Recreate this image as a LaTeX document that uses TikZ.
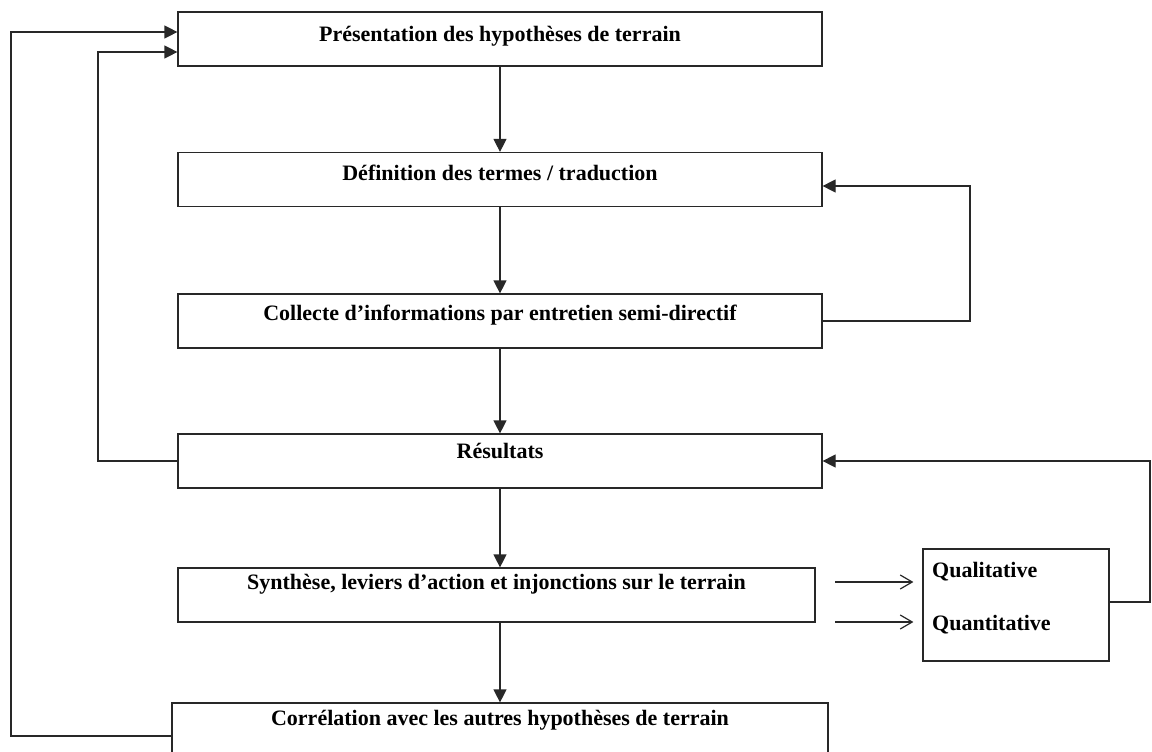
\documentclass[tikz,border=0pt]{standalone}
\usepackage{fontspec}
\setmainfont{Liberation Serif}
\usetikzlibrary{arrows.meta}
\definecolor{ink}{RGB}{40,40,40}
\begin{document}
\begin{tikzpicture}[x=1pt,y=-1pt,
  every node/.style={font=\fontsize{22}{26}\selectfont\bfseries, text=black},
  bx/.style={draw=ink, line width=1.2pt, minimum width=644pt, minimum height=54pt, inner sep=0pt, text height=12pt, text depth=#1},
  bx/.default=12pt,
  ln/.style={draw=ink, line width=1.2pt},
  arr/.style={ln, -{Triangle[length=13pt,width=13pt]}},
  openarr/.style={ln, -{Straight Barb[length=12pt,width=14pt]}, shorten >=9pt}
]
\useasboundingbox (0,0) rectangle (1152,752);

\node[bx=6pt]  (b1) at (500,39)    {Présentation des hypothèses de terrain};
\node[bx=10pt] (b2) at (500,179.5) {Définition des termes / traduction};
\node[bx=14pt] (b3) at (500,321)   {Collecte d’informations par entretien semi-directif};
\node[bx=18pt] (b4) at (500,461)   {Résultats};
\node[bx=24pt, minimum width=637pt] (b5) at (496.5,595) {Synthèse, leviers d’action et injonctions sur le terrain};
\node[bx=22pt, minimum width=656pt] (b6) at (500,730) {Corrélation avec les autres hypothèses de terrain};

\node[draw=ink, line width=1.2pt, minimum width=186pt, minimum height=112pt, inner sep=0pt] (q) at (1016,605) {};
\node[anchor=base west, inner sep=0pt] (ql) at (932,577) {Qualitative};
\node[anchor=base west, inner sep=0pt] (qn) at (932,630) {Quantitative};

% vertical flow
\draw[arr] (b1) -- (b2);
\draw[arr] (b2) -- (b3);
\draw[arr] (b3) -- (b4);
\draw[arr] (b4.south) -- (b4.south |- b5.north);
\draw[arr] (b6.north |- b5.south) -- (b6.north);

% left loops
\coordinate (L1) at (11,736);
\coordinate (L2) at (11,32);
\coordinate (L3) at (98,52);
\draw[arr] (b6.west |- L1) -| (L2) -- (b1.west |- L2);
\draw[arr] (b4.west) -| (L3) -- (b1.west |- L3);

% right loops
\coordinate (R1) at (970,186);
\draw[arr] (b3.east) -| (R1) -- (b2.east |- R1);
\coordinate (R2) at (1150,461);
\coordinate (R3) at (1150,602);
\draw[arr] (q.east |- R3) -- (R3) -- (R2) -- (b4.east);

% open arrows to qualitative / quantitative
\coordinate (s1) at (835,582);
\coordinate (s2) at (835,622);
\draw[openarr] (s1) -- (q.west |- s1);
\draw[openarr] (s2) -- (q.west |- s2);
\end{tikzpicture}
\end{document}
